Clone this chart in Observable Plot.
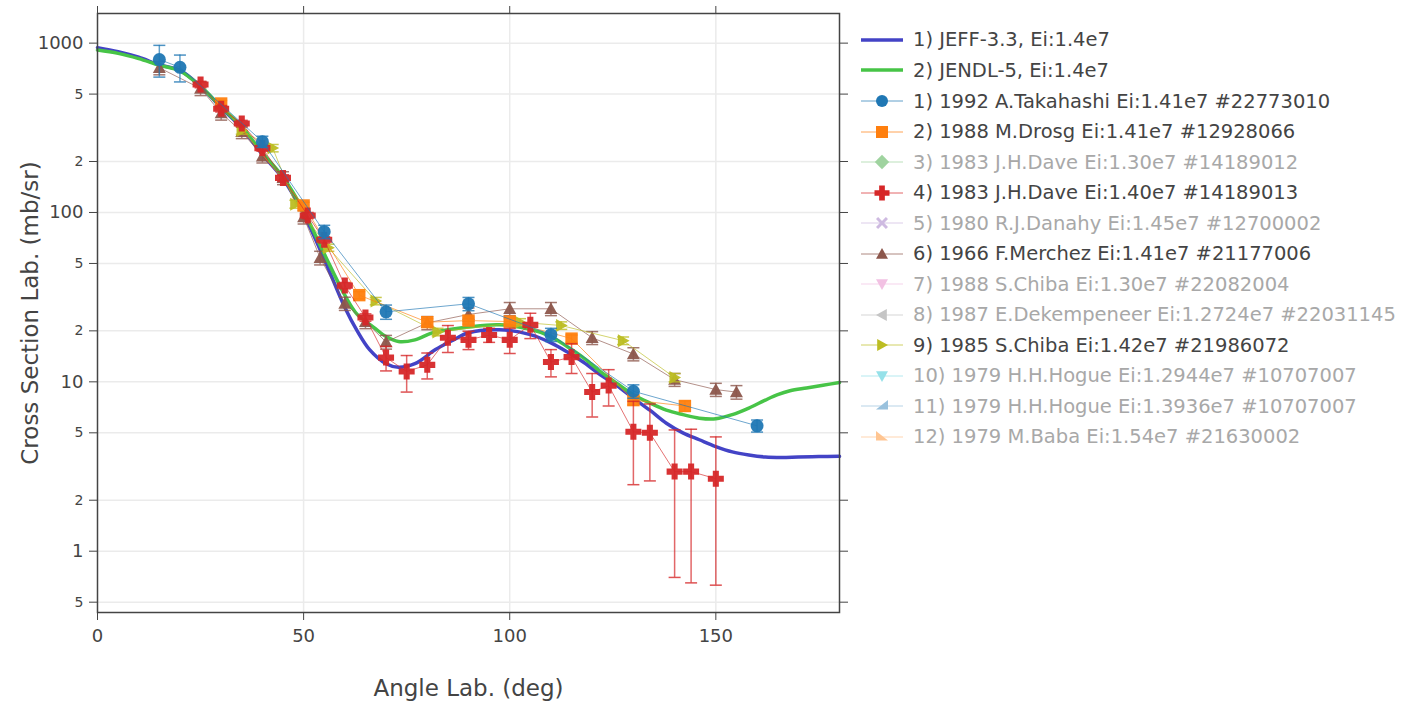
<!DOCTYPE html>
<html><head><meta charset="utf-8">
<script src="https://cdn.jsdelivr.net/npm/d3@7"></script>
<script src="https://cdn.jsdelivr.net/npm/@observablehq/plot@0.6"></script>
<style>
body{margin:0;background:#fff;font-family:"DejaVu Sans",Verdana,sans-serif;}
#wrap{position:relative;width:1416px;height:701px;overflow:hidden;}
#chart{position:absolute;left:0;top:0;}
#legend{position:absolute;left:859px;top:24.7px;}
.row{height:30.54px;display:flex;align-items:center;font-size:19.5px;color:#444;white-space:nowrap;}
.row.off{color:#a8a8a8;}
.row svg{margin-right:8px;flex:none;}
</style></head><body><div id="wrap"><div id="chart"></div><div id="legend"></div></div>
<script>
// ---------- evaluated curves ----------
const jeffAngle = [0,5,10,15,20,25,30,35,40,45,50,55,60,63,66,70,73,77,82,86,90,97.5,105,110,114,118,122,126,130,134,138,142,146,150,154,158,162,166,170,175,180];
const jeffXS    = [940,890,825,745,690,555,415,315,220,158,98,53,27.5,20,15.5,12.8,12.2,12.8,15.5,17.5,19.5,20.3,19,17,15,13,11,9.5,8.0,6.8,5.7,5.0,4.55,4.15,3.86,3.7,3.6,3.58,3.6,3.62,3.63];
const jendlAngle = [0,5,10,15,20,25,30,35,40,45,50,55,60,63,67,70,73,77,81,85,90,97.5,105,110,114,118,122,126,130,134,138,142,146,150,154,158,162,165,168,172,176,180];
const jendlXS    = [910,870,810,740,685,555,420,320,225,162,102,57,32.5,25,21,18.5,17.3,17.7,19.4,20.3,21.1,21.7,20.4,18.5,16.1,13.8,11.5,9.8,8.4,7.5,6.8,6.4,6.1,6.05,6.4,7.0,7.8,8.4,8.85,9.2,9.55,9.9];

// ---------- experimental data ----------
const takahashiAngle = [15,20,40,55,70,90,110,130,160];
const takahashiXS    = [800,720,262,77,25.9,28.9,19,8.8,5.5];
const takahashiErr   = [170,130,20,7,2.5,2.6,1.7,0.8,0.45];

const drosgAngle = [30,50,63.5,80,90,100,115,130,142.5];
const drosgXS    = [440,110,32.5,22.5,23,22.7,18,7.8,7.2];
const drosgErr   = [18,5,1.6,1.1,1.1,1.1,0.9,0.5,0.5];

const daveAngle = [25,30,35,40,45,51,55,60,65,70,75,80,85,90,95,100,105,110,115,120,124,130,134,140,144,150];
const daveXS    = [570,410,335,240,160,96,69,37,24,13.9,11.5,12.6,18.2,17.7,18.9,17.7,21.7,13.1,14,8.7,9.5,5.07,5.0,2.95,2.95,2.68];
const daveErr   = [25,18,15,10,7,4,3,1.6,1.2,2.3,2.8,2.2,3.3,2.2,1.8,3,3.7,2.4,2.8,2.5,2.3,2.6,2.4,2.25,2.3,2.05];

const merchezAngle = [15,25,30,35,40,45,50,54,60,65,70,80,90,100,110,120,130,140,150,155];
const merchezXS    = [715,540,386,300,215,160,94,54,29,22.6,17.2,22.3,25,27,27,18.2,14.6,10.3,9.0,8.7];
const merchezErr   = [65,50,35,27,19,14,8.5,5,2.6,2,1.6,2,2.3,2.4,2.4,1.6,1.3,0.9,0.8,0.8];

const chibaAngle = [35,42.5,48,56,67.5,82.5,102.5,112.5,127.5,140];
const chibaXS    = [305,240,112,62,30,19.7,22.5,21.5,17.5,10.6];
const chibaErr   = [15,12,6,3,1.5,1,1.1,1.1,0.9,0.6];

// ---------- legend & ticks ----------
const legendLabels = [
  "1) JEFF-3.3, Ei:1.4e7","2) JENDL-5, Ei:1.4e7",
  "1) 1992 A.Takahashi Ei:1.41e7 #22773010","2) 1988 M.Drosg Ei:1.41e7 #12928066",
  "3) 1983 J.H.Dave Ei:1.30e7 #14189012","4) 1983 J.H.Dave Ei:1.40e7 #14189013",
  "5) 1980 R.J.Danahy Ei:1.45e7 #12700002","6) 1966 F.Merchez Ei:1.41e7 #21177006",
  "7) 1988 S.Chiba Ei:1.30e7 #22082004","8) 1987 E.Dekempeneer Ei:1.2724e7 #22031145",
  "9) 1985 S.Chiba Ei:1.42e7 #21986072","10) 1979 H.H.Hogue Ei:1.2944e7 #10707007",
  "11) 1979 H.H.Hogue Ei:1.3936e7 #10707007","12) 1979 M.Baba Ei:1.54e7 #21630002"];
const legendColors = ["#4343c6","#47c447","#1f77b4","#ff7f0e","#2ca02c","#d62728","#9467bd","#8c564b","#e377c2","#7f7f7f","#bcbd22","#17becf","#1f77b4","#ff7f0e"];
const legendSymbols = ["model","model","circle","square","diamond","cross","x","triangle","triangle-down","triangle-left","triangle-right","triangle-down","triangle-se","triangle-sw"];
const legendActive = [true,true,true,true,false,true,false,true,false,false,true,false,false,false];

const yMajor = [1,10,100,1000];
const yMinor = [0.5,2,5,20,50,200,500];
const yMinorLabels = ["5","2","5","2","5","2","5"];
const xTicks = [0,50,100,150];

// ---------- helpers ----------
function sym(fn){ return {draw(ctx,size){ const r=Math.sqrt(size/Math.PI); fn(ctx,r);} }; }
const capSym = sym((c,r)=>{c.moveTo(-r,0);c.lineTo(r,0);});
const triRight = sym((c,r)=>{c.moveTo(r,0);c.lineTo(-r*0.8,-r);c.lineTo(-r*0.8,r);c.closePath();});
const triUp = sym((c,r)=>{c.moveTo(0,-r);c.lineTo(r,r*0.8);c.lineTo(-r,r*0.8);c.closePath();});
const crossSym = sym((c,r)=>{const a=r, b=r*0.38; c.moveTo(-b,-a);c.lineTo(b,-a);c.lineTo(b,-b);c.lineTo(a,-b);c.lineTo(a,b);c.lineTo(b,b);c.lineTo(b,a);c.lineTo(-b,a);c.lineTo(-b,b);c.lineTo(-a,b);c.lineTo(-a,-b);c.lineTo(-b,-b);c.closePath();});
const squareSym = sym((c,r)=>{c.rect(-r,-r,2*r,2*r);});

const rows = (ang,val,err)=>ang.map((a,i)=>({a, v:val[i], e:err?err[i]:0}));

function expMarks(data, color, symbol, r){
  return [
    Plot.line(data,{x:"a",y:"v",stroke:color,strokeWidth:1,strokeOpacity:0.65}),
    Plot.ruleX(data,{x:"a",y1:d=>d.v-d.e,y2:d=>d.v+d.e,stroke:color,strokeWidth:1.5,strokeOpacity:0.7}),
    Plot.dot(data,{x:"a",y:d=>d.v-d.e,symbol:capSym,r:6,stroke:color,fill:"none",strokeWidth:1.5,strokeOpacity:0.8}),
    Plot.dot(data,{x:"a",y:d=>d.v+d.e,symbol:capSym,r:6,stroke:color,fill:"none",strokeWidth:1.5,strokeOpacity:0.8}),
    Plot.dot(data,{x:"a",y:"v",symbol,r,fill:color,stroke:"none",fillOpacity:0.95})
  ];
}

const chart = Plot.plot({
  width:1416, height:701,
  marginLeft:97, marginRight:577, marginTop:13, marginBottom:89,
  style:{fontFamily:"'DejaVu Sans', Verdana, sans-serif", color:"#444", background:"#fff", overflow:"visible"},
  x:{domain:[0,180]},
  y:{type:"log", domain:[0.4345,1496]},
  marks:[
    Plot.gridY([...yMajor,...yMinor],{stroke:"#ebebeb",strokeOpacity:1,strokeWidth:1.5}),
    Plot.gridX([50,100,150],{stroke:"#ebebeb",strokeOpacity:1,strokeWidth:1.5}),
    Plot.line(rows(jeffAngle,jeffXS),{x:"a",y:"v",stroke:legendColors[0],strokeWidth:3.5,curve:"catmull-rom"}),
    Plot.line(rows(jendlAngle,jendlXS),{x:"a",y:"v",stroke:legendColors[1],strokeWidth:3.5,curve:"catmull-rom"}),
    ...expMarks(rows(merchezAngle,merchezXS,merchezErr),"#8c564b",triUp,6.5),
    ...expMarks(rows(chibaAngle,chibaXS,chibaErr),"#bcbd22",triRight,6.5),
    ...expMarks(rows(drosgAngle,drosgXS,drosgErr),"#ff7f0e",squareSym,6.2),
    ...expMarks(rows(daveAngle,daveXS,daveErr),"#d62728",crossSym,8),
    ...expMarks(rows(takahashiAngle,takahashiXS,takahashiErr),"#1f77b4","circle",6.5),
    Plot.frame({stroke:"#444",strokeWidth:1.5}),
    Plot.axisY({ticks:yMajor,anchor:"left",tickSize:8,tickPadding:6,fontSize:18,tickFormat:d=>String(d),label:null,stroke:"#444"}),
    Plot.axisY({ticks:yMinor,anchor:"left",tickSize:8,tickFormat:()=>"",label:null,stroke:"#444"}),
    Plot.text(yMinor,{y:d=>d,text:(d,i)=>yMinorLabels[i],frameAnchor:"left",dx:-14,textAnchor:"end",lineAnchor:"middle",fontSize:14,fill:"#444"}),
    Plot.axisY({ticks:[...yMajor,...yMinor],anchor:"right",tickSize:8,tickFormat:()=>"",label:null,stroke:"#444"}),
    Plot.axisX({ticks:xTicks,anchor:"bottom",tickSize:8,tickPadding:9,fontSize:18,tickFormat:d=>String(d),label:null,stroke:"#444"}),
    Plot.axisX({ticks:xTicks,anchor:"top",tickSize:8,tickFormat:()=>"",label:null,stroke:"#444"}),
    Plot.text(["Cross Section Lab. (mb/sr)"],{text:d=>d,frameAnchor:"left",dx:-67,rotate:-90,fontSize:23,fill:"#444",textAnchor:"middle",lineAnchor:"middle"}),
    Plot.text(["Angle Lab. (deg)"],{text:d=>d,frameAnchor:"bottom",dy:76,fontSize:23,fill:"#444",textAnchor:"middle",lineAnchor:"middle"})
  ]
});
document.getElementById("chart").appendChild(chart);

// ---------- legend ----------
function symPath(s, r){
  switch(s){
    case "circle": return `<circle cx="0" cy="0" r="${r}"/>`;
    case "square": return `<rect x="${-r}" y="${-r}" width="${2*r}" height="${2*r}"/>`;
    case "diamond": return `<path d="M0,${-r*1.2}L${r*1.2},0L0,${r*1.2}L${-r*1.2},0Z"/>`;
    case "cross": { const a=r*1.25,b=a*0.38; return `<path d="M${-b},${-a}H${b}V${-b}H${a}V${b}H${b}V${a}H${-b}V${b}H${-a}V${-b}H${-b}Z"/>`; }
    case "x": { const a=r,b=r*0.35; return `<path d="M${-a},${-a+b}L${-a+b},${-a}L0,${-b}L${a-b},${-a}L${a},${-a+b}L${b},0L${a},${a-b}L${a-b},${a}L0,${b}L${-a+b},${a}L${-a},${a-b}L${-b},0Z"/>`; }
    case "triangle": return `<path d="M0,${-r}L${r},${r*0.8}L${-r},${r*0.8}Z"/>`;
    case "triangle-down": return `<path d="M0,${r}L${r},${-r*0.8}L${-r},${-r*0.8}Z"/>`;
    case "triangle-left": return `<path d="M${-r},0L${r*0.8},${-r}L${r*0.8},${r}Z"/>`;
    case "triangle-right": return `<path d="M${r},0L${-r*0.8},${-r}L${-r*0.8},${r}Z"/>`;
    case "triangle-se": return `<path d="M${r},${-r}L${r},${r*0.6}L${-r},${r*0.6}Z"/>`;
    case "triangle-sw": return `<path d="M${-r},${-r}L${-r},${r*0.6}L${r},${r*0.6}Z"/>`;
  }
  return "";
}
const leg = document.getElementById("legend");
legendLabels.forEach((lab,i)=>{
  const col = legendColors[i], on = legendActive[i];
  const op = on ? 1 : 0.45;
  let svg;
  if(legendSymbols[i]==="model"){
    svg = `<svg width="46" height="20"><line x1="2" x2="44" y1="10" y2="10" stroke="${col}" stroke-width="3.5"/></svg>`;
  } else {
    svg = `<svg width="46" height="20" style="opacity:${op}"><line x1="2" x2="44" y1="10" y2="10" stroke="${col}" stroke-width="1" stroke-opacity="0.7"/><g transform="translate(23,10)" fill="${col}">${symPath(legendSymbols[i],6)}</g></svg>`;
  }
  const div = document.createElement("div");
  div.className = "row" + (on ? "" : " off");
  div.innerHTML = svg + `<span>${lab}</span>`;
  leg.appendChild(div);
});
</script></body></html>
